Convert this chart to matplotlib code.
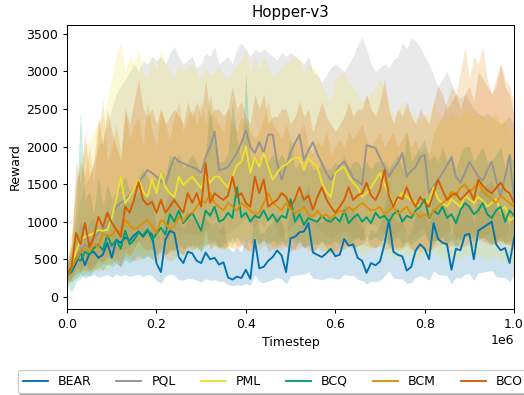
import numpy as np
import matplotlib
matplotlib.use("Agg")
import matplotlib.pyplot as plt

# timesteps, one eval every 10k steps
steps = np.arange(0, 1000001, 10000)

names = ["BEAR", "PQL", "PML", "BCQ", "BCM", "BCO"]
colors = ["#0173b2", "#949494", "#ece133", "#029e73", "#de8f05", "#d55e00"]

bear = [300, 330, 450, 600, 420, 580, 600, 520, 560, 720, 520, 760, 720, 790, 750, 820, 870, 800, 880, 830,
        450, 330, 760, 880, 850, 530, 450, 600, 580, 480, 450, 590, 500, 520, 430, 460, 260, 230, 270, 250,
        360, 240, 760, 380, 400, 480, 530, 620, 550, 330, 780, 800, 860, 870, 980, 590, 560, 530, 580, 640,
        540, 560, 770, 680, 700, 520, 480, 320, 450, 420, 470, 700, 1020, 600, 560, 540, 350, 400, 620, 700,
        640, 500, 980, 770, 720, 700, 360, 640, 620, 820, 840, 500, 880, 920, 960, 1000, 700, 620, 650, 450, 780]
bear_lo = [250, 200, 250, 300, 250, 280, 300, 260, 280, 300, 260, 300, 280, 300, 270, 290, 300, 270, 300, 280,
           220, 180, 280, 300, 290, 230, 220, 250, 240, 220, 200, 240, 220, 230, 200, 210, 160, 150, 160, 150,
           180, 150, 300, 200, 190, 210, 230, 260, 240, 170, 280, 290, 300, 300, 330, 250, 240, 230, 250, 260,
           240, 240, 300, 280, 290, 230, 220, 170, 210, 200, 220, 280, 350, 250, 240, 240, 180, 190, 260, 280,
           260, 220, 350, 300, 290, 280, 170, 260, 250, 300, 310, 220, 320, 330, 340, 350, 270, 260, 260, 200, 290]
bear_hi = [450, 550, 800, 1000, 800, 1000, 1050, 900, 1000, 1200, 950, 1250, 1200, 1300, 1250, 1300, 1400, 1300, 1400, 1300,
           900, 700, 1250, 1400, 1350, 1000, 900, 1050, 1050, 950, 900, 1050, 950, 1000, 900, 950, 650, 600, 650, 600,
           800, 600, 1250, 850, 850, 950, 1000, 1100, 1000, 750, 1250, 1300, 1350, 1350, 1500, 1050, 1000, 1000, 1050, 1100,
           1000, 1000, 1250, 1150, 1200, 1000, 950, 750, 900, 850, 950, 1200, 1550, 1050, 1000, 1000, 800, 850, 1100, 1200,
           1100, 950, 1500, 1250, 1200, 1200, 800, 1100, 1100, 1300, 1350, 950, 1400, 1450, 1500, 1550, 1200, 1100, 1100, 900, 1300]

pql = [280, 380, 550, 620, 700, 650, 780, 850, 900, 950, 1100, 1200, 1250, 1290, 1350, 1450, 1520, 1600, 1690, 1650,
       1600, 1550, 1490, 1700, 1860, 1800, 1780, 1750, 1730, 1700, 1650, 1860, 2000, 2200, 1690, 1700, 1730, 1820, 1915, 2050,
       2220, 2000, 1915, 2060, 1915, 2160, 2160, 1780, 1560, 1750, 1915, 2050, 2160, 1820, 1950, 2060, 1900, 1780, 1650, 1560,
       1650, 1750, 1800, 1700, 1580, 1540, 1490, 2020, 2000, 1980, 1850, 1720, 1600, 1700, 1780, 1915, 1600, 1680, 1730, 1860,
       1890, 1380, 1480, 1560, 1650, 1750, 1860, 1600, 1520, 1650, 1800, 1700, 1600, 1550, 1680, 1800, 1550, 1330, 1600, 1890, 1290]
pql_lo = [200, 250, 300, 330, 380, 350, 420, 460, 480, 500, 560, 600, 620, 650, 680, 720, 750, 780, 820, 800,
          780, 760, 740, 820, 900, 880, 870, 860, 850, 840, 820, 900, 950, 1050, 830, 840, 850, 890, 930, 990,
          1060, 970, 930, 1000, 930, 1040, 1040, 870, 780, 860, 930, 990, 1040, 890, 950, 990, 930, 870, 820, 780,
          820, 860, 880, 840, 790, 770, 750, 980, 970, 960, 900, 850, 800, 840, 870, 930, 800, 830, 850, 900,
          920, 700, 740, 780, 820, 860, 900, 800, 760, 820, 880, 840, 800, 780, 830, 880, 780, 680, 800, 920, 660]
pql_hi = [350, 600, 1000, 1300, 1500, 1600, 1800, 2000, 2100, 2300, 2500, 2700, 2800, 2890, 3000, 3100, 3000, 3150, 3100, 3200,
          3150, 3200, 3100, 3250, 3330, 3200, 3100, 3150, 3200, 3050, 3100, 3250, 3200, 3330, 3100, 3150, 3200, 3100, 3300, 3380,
          3300, 3200, 3300, 3250, 3300, 3250, 3200, 3150, 3250, 3200, 3250, 3200, 3150, 3100, 3200, 3000, 2950, 2860, 2950, 3050,
          3100, 3050, 3000, 3100, 3200, 3350, 3460, 3300, 3100, 3000, 3050, 3100, 3050, 3150, 3200, 3380, 3300, 3460, 3400, 3330,
          3200, 3100, 2950, 2800, 2900, 3000, 2850, 2700, 2650, 2700, 2600, 2500, 2450, 2400, 2450, 2400, 2350, 2300, 2350, 2400, 2300]

pml = [280, 400, 600, 760, 800, 820, 850, 890, 880, 890, 1065, 1300, 1600, 1250, 1330, 1450, 1560, 1400, 1330, 1560,
       1380, 1650, 1460, 1380, 1330, 1600, 1490, 1550, 1600, 1520, 1450, 1620, 1520, 1600, 1600, 1520, 1460, 1600, 1750, 1800,
       2000, 1650, 1860, 1730, 1915, 1730, 1560, 1650, 1730, 1760, 1820, 1850, 1850, 1690, 1850, 1780, 1730, 1520, 1400, 1330,
       1650, 1700, 1730, 1600, 1520, 1460, 1330, 1380, 1460, 1550, 1650, 1500, 1380, 1200, 1300, 1380, 1330, 1280, 1250, 1200,
       1300, 1250, 1460, 1300, 1250, 1200, 1300, 1250, 1200, 1350, 1300, 1250, 1330, 1280, 1200, 1250, 1300, 1150, 1200, 1020, 1050]
pml_lo = [150, 200, 250, 300, 320, 330, 350, 360, 360, 370, 430, 520, 640, 520, 560, 600, 650, 590, 560, 650,
          580, 680, 610, 580, 560, 670, 630, 650, 670, 640, 610, 680, 640, 670, 670, 640, 620, 670, 730, 750,
          830, 690, 770, 720, 790, 720, 650, 690, 720, 730, 760, 770, 770, 700, 770, 740, 720, 640, 590, 560,
          690, 710, 720, 670, 640, 610, 560, 580, 610, 650, 690, 630, 580, 500, 540, 580, 560, 540, 520, 500,
          540, 520, 610, 540, 520, 500, 540, 520, 500, 560, 540, 520, 550, 530, 500, 520, 540, 470, 500, 420, 430]
pml_hi = [500, 900, 1500, 1800, 2000, 2100, 2200, 2300, 2400, 2600, 2900, 3200, 3400, 3000, 3200, 3100, 3300, 3000, 2900, 3200,
          3000, 3300, 3100, 3000, 2900, 3100, 3000, 3050, 3100, 3000, 2900, 3050, 2950, 3000, 3050, 2950, 2900, 3000, 3100, 3150,
          3300, 3000, 3200, 3050, 3200, 3050, 2900, 3000, 3050, 3100, 3150, 3200, 3150, 3000, 3100, 3050, 3000, 2800, 2700, 2600,
          2900, 2950, 3000, 2850, 2800, 2700, 2600, 2650, 2700, 2800, 2900, 2750, 2600, 2400, 2500, 2600, 2500, 2450, 2400, 2350,
          2450, 2400, 2600, 2450, 2400, 2350, 2450, 2400, 2350, 2500, 2450, 2400, 2450, 2400, 2350, 2400, 2450, 2300, 2350, 2200, 2250]

bcq = [280, 350, 520, 480, 600, 560, 650, 700, 620, 820, 680, 760, 640, 880, 700, 760, 860, 820, 900, 760,
       840, 920, 830, 1100, 1000, 1150, 980, 1050, 1120, 1000, 880, 1150, 1080, 1200, 1000, 1030, 1120, 1050, 1460, 1060,
       1120, 1000, 1080, 1050, 1150, 1020, 1100, 1000, 1080, 1050, 1300, 1000, 1100, 960, 1050, 1020, 1000, 1080, 1020, 1000,
       1060, 1000, 1150, 980, 1050, 1100, 1000, 1060, 980, 1120, 1050, 1080, 1000, 1100, 1150, 1000, 1080, 1050, 1150, 1200,
       1300, 1050, 1150, 1100, 1200, 1050, 1100, 980, 1150, 1250, 1200, 1100, 1150, 1250, 1100, 1050, 1150, 1200, 1000, 1150, 1080]
bcq_lo = [150, 60, 200, 250, 300, 280, 350, 400, 350, 450, 400, 450, 400, 500, 450, 500, 550, 500, 550, 500,
          550, 600, 550, 650, 600, 700, 650, 650, 700, 650, 600, 700, 700, 750, 650, 700, 750, 700, 800, 700,
          750, 700, 750, 700, 750, 700, 750, 700, 750, 700, 800, 700, 750, 650, 700, 700, 700, 750, 700, 700,
          750, 700, 800, 700, 750, 800, 750, 800, 750, 800, 750, 750, 700, 750, 800, 700, 750, 700, 750, 800,
          850, 700, 750, 750, 800, 700, 750, 650, 750, 800, 800, 750, 750, 800, 750, 700, 750, 800, 700, 750, 700]
bcq_hi = [400, 700, 1200, 2490, 1300, 1400, 1100, 1600, 1200, 1500, 1300, 1400, 1500, 1600, 1400, 1500, 1600, 1700, 1600, 1500,
          1600, 1700, 1600, 1900, 1800, 1900, 1700, 1800, 1900, 1800, 1600, 1900, 2580, 2000, 1800, 1800, 1900, 2620, 2100, 1800,
          3000, 1800, 1900, 1800, 1900, 1800, 1900, 1800, 1900, 1800, 2100, 1700, 1800, 1700, 1800, 1700, 1700, 1800, 1700, 1700,
          1800, 1700, 1900, 1700, 1800, 1800, 1700, 1800, 1700, 1800, 1800, 1800, 1700, 1800, 1900, 1700, 2180, 1800, 1900, 2000,
          2100, 1800, 1900, 1800, 2000, 1800, 1900, 1700, 1900, 2000, 2000, 1800, 1900, 2000, 1800, 1800, 1900, 2000, 1700, 1900, 1800]

bcm = [280, 380, 500, 585, 650, 600, 700, 665, 850, 800, 820, 900, 850, 1025, 950, 900, 930, 980, 1025, 950,
       850, 1025, 980, 900, 950, 1065, 1000, 1100, 1120, 1200, 1290, 1250, 1380, 1250, 1200, 1150, 1250, 1200, 1150, 1250,
       1200, 1150, 1100, 1120, 1250, 1380, 1250, 1200, 1150, 1250, 1160, 1120, 1150, 1200, 1100, 1065, 1150, 1065, 1100, 1025,
       1100, 1150, 1120, 1200, 1150, 1200, 1250, 1200, 1150, 1160, 1200, 1100, 1150, 1200, 1100, 1150, 1200, 1100, 1120, 1065,
       1100, 1065, 1150, 1200, 1250, 1300, 1400, 1350, 1450, 1500, 1400, 1450, 1520, 1400, 1350, 1300, 1250, 1350, 1300, 1250, 1200]
bcm_lo = [180, 250, 300, 350, 350, 330, 380, 350, 450, 420, 450, 500, 450, 550, 500, 480, 500, 520, 550, 500,
          450, 550, 520, 480, 500, 580, 550, 600, 620, 650, 700, 680, 750, 680, 650, 620, 680, 650, 620, 680,
          650, 620, 600, 620, 680, 750, 680, 650, 620, 680, 650, 620, 650, 680, 620, 600, 650, 600, 620, 580,
          620, 650, 630, 680, 650, 680, 700, 680, 650, 660, 680, 620, 650, 680, 620, 650, 680, 620, 630, 600,
          620, 600, 650, 680, 700, 720, 780, 750, 800, 820, 780, 800, 820, 780, 750, 720, 700, 750, 720, 700, 680]
bcm_hi = [400, 800, 1500, 1800, 1600, 2000, 1500, 2200, 2620, 1800, 2000, 2300, 1900, 2500, 2100, 2300, 2400, 2000, 2600, 2200,
          2000, 2500, 2300, 2100, 2400, 2600, 2200, 2400, 2500, 2300, 2600, 2300, 2700, 2400, 2300, 2200, 2500, 2300, 2200, 2400,
          2300, 2200, 2100, 2200, 2400, 2600, 2300, 2200, 2100, 2300, 2100, 2000, 2200, 2300, 2000, 1900, 2100, 2000, 2200, 1900,
          2000, 2100, 2000, 2200, 2100, 2200, 2300, 2100, 2000, 2100, 2200, 2000, 2100, 2200, 2000, 2100, 2200, 2000, 2100, 1900,
          2000, 1900, 2200, 2300, 2400, 2600, 2800, 2700, 3000, 3330, 2900, 3200, 3100, 3330, 2900, 2700, 2800, 3100, 2900, 2800, 2600]

bco = [300, 400, 850, 700, 985, 665, 800, 1065, 930, 1120, 985, 900, 800, 1200, 1120, 1300, 1530, 1290, 1225, 1265,
       1120, 1290, 1120, 1200, 1290, 1200, 1120, 1380, 1250, 1380, 1200, 1780, 1250, 1380, 1330, 1290, 1350, 1600, 1330, 1380,
       1250, 1200, 1600, 1380, 1560, 1200, 1250, 1290, 1380, 1330, 1200, 1300, 1460, 1290, 1350, 1160, 1330, 1460, 1300, 1200,
       1120, 1200, 1290, 1460, 1290, 1350, 1380, 1520, 1350, 1290, 1420, 1690, 1350, 1200, 1330, 1300, 1460, 1300, 1200, 1330,
       1250, 1200, 1380, 1560, 1420, 1290, 1350, 1380, 1290, 1350, 1420, 1290, 1560, 1480, 1420, 1380, 1450, 1520, 1420, 1380, 1250]
bco_lo = [180, 220, 400, 350, 450, 350, 400, 500, 450, 550, 500, 450, 400, 600, 550, 650, 750, 650, 620, 640,
          560, 650, 560, 600, 650, 600, 560, 700, 630, 700, 600, 900, 630, 700, 670, 650, 680, 800, 670, 700,
          630, 600, 800, 700, 780, 600, 630, 650, 700, 670, 600, 650, 730, 650, 680, 580, 670, 730, 650, 600,
          560, 600, 650, 730, 650, 680, 700, 760, 680, 650, 710, 850, 680, 600, 670, 650, 730, 650, 600, 670,
          630, 600, 690, 780, 710, 650, 680, 690, 650, 680, 710, 650, 780, 740, 710, 690, 730, 760, 710, 690, 630]
bco_hi = [450, 700, 1800, 1500, 2200, 1600, 1800, 2400, 2000, 2500, 2200, 2000, 1800, 2500, 2300, 2600, 2900, 2500, 2400, 2500,
          2300, 2500, 2300, 2400, 2500, 2400, 2300, 2600, 2400, 2600, 2400, 2900, 2400, 2500, 2500, 2400, 2500, 2800, 2500, 2600,
          2400, 2300, 2700, 2500, 2700, 2300, 2400, 2400, 2500, 2500, 2300, 2400, 2600, 2400, 2500, 2200, 2400, 2600, 2400, 2300,
          2200, 2300, 2400, 2600, 2400, 2500, 2500, 2700, 2500, 2400, 2600, 2900, 2500, 2300, 2500, 2400, 2600, 2400, 2300, 2500,
          2400, 2300, 2600, 2800, 2700, 2500, 2600, 2700, 2500, 2700, 2800, 2600, 3000, 2900, 2800, 2700, 2900, 3100, 2800, 2700, 2400]

means = [bear, pql, pml, bcq, bcm, bco]
lows = [bear_lo, pql_lo, pml_lo, bcq_lo, bcm_lo, bco_lo]
highs = [bear_hi, pql_hi, pml_hi, bcq_hi, bcm_hi, bco_hi]

fig = plt.figure(figsize=(524 / 90, 395 / 90), dpi=90)
ax = fig.add_axes([0.128, 0.218, 0.853, 0.719])

for name, c, m, lo, hi in zip(names, colors, means, lows, highs):
    ax.plot(steps, m, color=c, lw=1.5, label=name)
    ax.fill_between(steps, lo, hi, color=c, alpha=0.2, lw=0)

ax.set_xlim(0, 1e6)
ax.set_ylim(-160, 3620)
ax.set_title("Hopper-v3")
ax.set_xlabel("Timestep")
ax.set_ylabel("Reward")
ax.legend(loc="upper center", bbox_to_anchor=(0.46, -0.193), ncol=6, shadow=True, fancybox=True)

fig.savefig("out.png", dpi=90)
